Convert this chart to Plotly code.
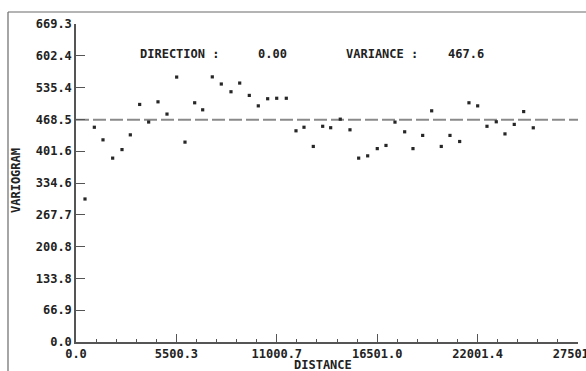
import plotly.graph_objects as go

# ---- data ----
lag_distance = [493, 1004, 1479, 2009, 2520, 2976, 3488, 3981, 4492, 4985,
                5515, 5971, 6502, 6940, 7467, 7960, 8491, 8968, 9494, 9987,
                10500, 10995, 11521, 12052, 12490, 13000, 13514, 13952, 14478, 15010,
                15486, 15979, 16505, 16982, 17475, 18006, 18461, 18992, 19485, 20011,
                20488, 21019, 21528, 22005, 22515, 23024, 23501, 24010, 24525, 25051]
variogram = [301, 452, 425.5, 387, 405, 436, 500, 463, 505.5, 479.7,
             557.6, 420.7, 503.5, 488.7, 558, 543, 526.7, 545, 519, 497,
             512, 513, 513, 444.5, 452, 411.6, 454, 451, 469, 446.6,
             387, 391.8, 407, 413.7, 462.8, 442.4, 407, 434.8, 486.6, 411.6,
             434.8, 422, 503.5, 497, 454, 463.5, 438, 458, 485, 450.8]
variance = 467.6
direction = "0.00"

x_tick_labels = ["0.0", "5500.3", "11000.7", "16501.0", "22001.4", "27501.7"]
y_tick_labels = ["0.0", "66.9", "133.8", "200.8", "267.7", "334.6",
                 "401.6", "468.5", "535.4", "602.4", "669.3"]

x_ticks = [float(t) for t in x_tick_labels]
y_ticks = [float(t) for t in y_tick_labels]
x_max = x_ticks[-1]
y_max = y_ticks[-1]
minor_x = [x_max * i / 25 for i in range(26)]

FONT = "DejaVu Sans Mono"
TXT = "#222222"
AX = "#555555"

fig = go.Figure()
fig.add_trace(go.Scatter(
    x=lag_distance, y=variogram, mode="markers",
    marker=dict(symbol="square", size=3.2, color="#262626", line=dict(width=0)),
    showlegend=False, cliponaxis=False,
))

# variance dashed line
fig.add_shape(type="line", xref="x", yref="y", x0=0, x1=x_max, y0=variance, y1=variance,
              line=dict(color="#8a8a8a", width=2, dash="13px,4px"), layer="below")

# frame lines (partially visible border)
W, H = 586, 371
L, R, T, B = 76, 8, 24, 29
pw, ph = W - L - R, H - T - B
def px(xp): return (xp - L) / pw
def py(yp): return (H - B - yp) / ph

fig.add_shape(type="line", xref="paper", yref="paper", x0=px(8), x1=px(590), y0=py(12), y1=py(12),
              line=dict(color="#6a6a6a", width=1.2))
fig.add_shape(type="line", xref="paper", yref="paper", x0=px(8), x1=px(8), y0=py(12), y1=py(375),
              line=dict(color="#6a6a6a", width=1.2))

font_main = dict(family=FONT, size=12, color=TXT, weight="bold")

def ann(text, x, y, xanchor="left", angle=0):
    fig.add_annotation(text=text, xref="paper", yref="paper", x=px(x), y=py(y),
                       xanchor=xanchor, yanchor="middle", showarrow=False,
                       font=font_main, textangle=angle)

ann("DIRECTION :", 138, 54)
ann(direction, 256, 54)
ann("VARIANCE :", 344, 54)
ann("%.1f" % variance, 446, 54)
ann("DISTANCE", 323, 365, xanchor="center")
ann("VARIOGRAM", 16, 181, xanchor="center", angle=-90)

fig.update_layout(
    width=W, height=H,
    margin=dict(l=L, r=R, t=T, b=B, autoexpand=False),
    paper_bgcolor="white", plot_bgcolor="white",
    font=font_main,
    xaxis=dict(range=[0, x_max], tickmode="array", tickvals=x_ticks, ticktext=x_tick_labels,
               ticks="inside", ticklen=8, tickwidth=1, tickcolor=AX, ticklabeloverflow="allow",
               automargin=False,
               showline=True, linecolor=AX, linewidth=1.5, showgrid=False, zeroline=False,
               tickfont=font_main,
               minor=dict(tickmode="array", tickvals=minor_x, ticks="inside", ticklen=3,
                          tickwidth=1, tickcolor=AX, showgrid=False)),
    yaxis=dict(range=[0, y_max], tickmode="array", tickvals=y_ticks, ticktext=y_tick_labels,
               ticks="inside", ticklen=9, tickwidth=1.2, tickcolor=AX, automargin=False,
               showline=True, linecolor=AX, linewidth=1.5, showgrid=False, zeroline=False,
               tickfont=font_main),
)

fig.write_html("out.html")
